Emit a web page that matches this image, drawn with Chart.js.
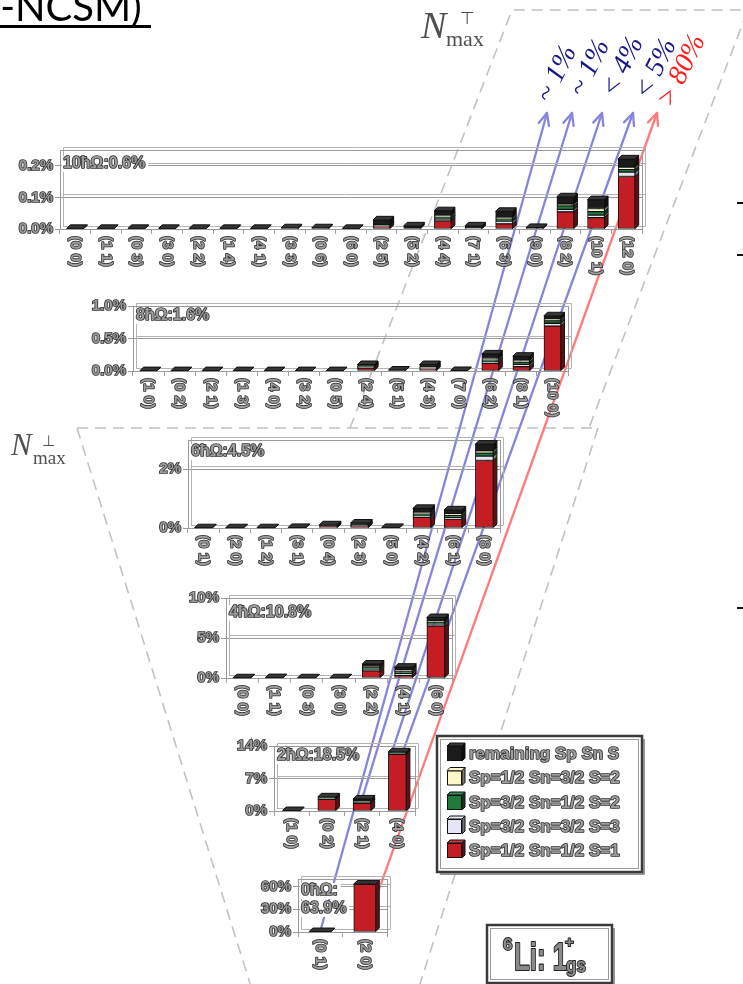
<!DOCTYPE html>
<html lang="en">
<head>
<meta charset="utf-8">
<title>6Li ground state: SU(3) and spin content per shell</title>
<script src="https://cdn.jsdelivr.net/npm/chart.js@4.4.1/dist/chart.umd.min.js"></script>
<style>
  html, body { margin: 0; padding: 0; background: #fff; }
  #stage { position: relative; width: 743px; height: 984px; overflow: hidden; background: #fff; }
  #stage canvas { position: absolute; }
  #bg { left: 0; top: 0; z-index: 0; }
</style>
</head>
<body>
<div id="stage"><canvas id="bg" width="743" height="984"></canvas></div>
<script>
// ---------------- data ----------------
// SU(3) irreps (lambda mu) in each N-hbar-Omega shell
const irreps0  = ['(0 1)', '(2 0)'];
const irreps2  = ['(1 0)', '(0 2)', '(2 1)', '(4 0)'];
const irreps4  = ['(0 0)', '(1 1)', '(0 3)', '(3 0)', '(2 2)', '(4 1)', '(6 0)'];
const irreps6  = ['(0 1)', '(2 0)', '(1 2)', '(3 1)', '(0 4)', '(2 3)', '(5 0)', '(4 2)', '(6 1)', '(8 0)'];
const irreps8  = ['(1 0)', '(0 2)', '(2 1)', '(1 3)', '(4 0)', '(3 2)', '(0 5)', '(2 4)', '(5 1)', '(4 3)', '(7 0)', '(6 2)', '(8 1)', '(10 0)'];
const irreps10 = ['(0 0)', '(1 1)', '(0 3)', '(3 0)', '(2 2)', '(1 4)', '(4 1)', '(3 3)', '(0 6)', '(6 0)', '(2 5)', '(5 2)', '(4 4)', '(7 1)', '(6 3)', '(9 0)', '(8 2)', '(10 1)', '(12 0)'];

// probability (%) per spin component; stacked bottom -> top:
// s1 = Sp=1/2 Sn=1/2 S=1, s3 = Sp=3/2 Sn=3/2 S=3, s2p = Sp=3/2 Sn=1/2 S=2,
// s2n = Sp=1/2 Sn=3/2 S=2, rest = remaining Sp Sn S
const s1_0   = [0, 63.0];
const s3_0   = [0, 0];
const s2p_0  = [0, 0];
const s2n_0  = [0, 0];
const rest_0 = [0.6, 0.3];

const s1_2   = [0, 2.5, 1.65, 12.2];
const s3_2   = [0, 0.1, 0.15, 0.1];
const s2p_2  = [0, 0.1, 0.15, 0.1];
const s2n_2  = [0, 0.05, 0.1, 0.05];
const rest_2 = [0.1, 0.3, 0.55, 0.3];

const s1_4   = [0, 0, 0, 0, 0.90, 0.32, 6.50];
const s3_4   = [0, 0, 0, 0, 0.20, 0.22, 0.25];
const s2p_4  = [0, 0, 0, 0, 0.20, 0.25, 0.20];
const s2n_4  = [0, 0, 0, 0, 0.15, 0.20, 0.16];
const rest_4 = [0.03, 0.05, 0.03, 0.03, 0.30, 0.36, 0.45];

const s1_6   = [0, 0, 0, 0, 0.05, 0.07, 0, 0.36, 0.30, 2.30];
const s3_6   = [0, 0, 0, 0, 0, 0.01, 0, 0.05, 0.06, 0.15];
const s2p_6  = [0, 0, 0, 0, 0, 0.01, 0, 0.07, 0.07, 0.10];
const s2n_6  = [0, 0, 0, 0, 0, 0.01, 0, 0.05, 0.05, 0.08];
const rest_6 = [0.01, 0.01, 0.01, 0.02, 0.06, 0.07, 0.02, 0.14, 0.14, 0.23];

const s1_8   = [0, 0, 0, 0, 0, 0, 0, 0.045, 0, 0.028, 0, 0.118, 0.068, 0.690];
const s3_8   = [0, 0, 0, 0, 0, 0, 0, 0.008, 0, 0.010, 0, 0.025, 0.035, 0.045];
const s2p_8  = [0, 0, 0, 0, 0, 0, 0, 0.008, 0, 0.010, 0, 0.028, 0.035, 0.040];
const s2n_8  = [0, 0, 0, 0, 0, 0, 0, 0.007, 0, 0.008, 0, 0.022, 0.030, 0.025];
const rest_8 = [0.006, 0.006, 0.006, 0.006, 0.006, 0.006, 0.006, 0.032, 0.015, 0.044, 0.008, 0.070, 0.060, 0.050];

const s1_10   = [0, 0, 0, 0, 0, 0, 0, 0, 0, 0, 0.007, 0, 0.026, 0, 0.016, 0, 0.054, 0.036, 0.166];
const s3_10   = [0, 0, 0, 0, 0, 0, 0, 0, 0, 0, 0.002, 0, 0.005, 0.002, 0.009, 0, 0.008, 0.008, 0.014];
const s2p_10  = [0, 0, 0, 0, 0, 0, 0, 0, 0, 0, 0.002, 0, 0.007, 0, 0.007, 0, 0.011, 0.011, 0.008];
const s2n_10  = [0, 0, 0, 0, 0, 0, 0, 0, 0, 0, 0.002, 0, 0.005, 0, 0.005, 0, 0.006, 0.010, 0.008];
const rest_10 = [0.002, 0.002, 0.002, 0.002, 0.002, 0.002, 0.002, 0.004, 0.004, 0.002, 0.016, 0.010, 0.015, 0.008, 0.019, 0.005, 0.023, 0.028, 0.026];

// y-axis tick values per shell
const ticks0  = [0, 30, 60];
const ticks2  = [0, 7, 14];
const ticks4  = [0, 5, 10];
const ticks6  = [0, 2];
const ticks8  = [0, 0.5, 1.0];
const ticks10 = [0, 0.1, 0.2];

const seriesNames = ['Sp=1/2 Sn=1/2 S=1', 'Sp=3/2 Sn=3/2 S=3', 'Sp=3/2 Sn=1/2 S=2', 'Sp=1/2 Sn=3/2 S=2', 'remaining Sp Sn S'];
// flow to the next shell, shown at the arrow heads
const flowLabels = ['~ 1%', '~ 1%', '< 4%', '< 5%', '> 80%'];

// ---------------- styling / layout ----------------
const seriesColors = ['#c41e24', '#e5e5f5', '#1f7a3b', '#fbf7c6', '#1b1b1b'];
const FONT = '"Liberation Sans", Arial, sans-serif';
const TXT_FILL = '#9c9c9c', TXT_EDGE = '#2e2e2e', TXT_W = 1.6;
const Wy = 56, padTop = 8, padRight = 10, Hx = 62, depth = 3.5;

const panels = [
  { id: 'p10', shell: 10, labels: irreps10, series: [s1_10, s3_10, s2p_10, s2n_10, rest_10], ticks: ticks10, dec: 1,
    left: 60,  right: 642, top: 147, bottom: 229, max: 0.25, barW: 17, tagDy: [14] },
  { id: 'p8',  shell: 8,  labels: irreps8,  series: [s1_8, s3_8, s2p_8, s2n_8, rest_8], ticks: ticks8, dec: 1,
    left: 133, right: 568, top: 303, bottom: 371, max: 1.0,  barW: 17, tagDy: [10] },
  { id: 'p6',  shell: 6,  labels: irreps6,  series: [s1_6, s3_6, s2p_6, s2n_6, rest_6], ticks: ticks6, dec: 0,
    left: 188, right: 500, top: 437, bottom: 528, max: 3,    barW: 18, tagDy: [12] },
  { id: 'p4',  shell: 4,  labels: irreps4,  series: [s1_4, s3_4, s2p_4, s2n_4, rest_4], ticks: ticks4, dec: 0,
    left: 226, right: 452, top: 595, bottom: 678, max: 10,   barW: 18, tagDy: [15] },
  { id: 'p2',  shell: 2,  labels: irreps2,  series: [s1_2, s3_2, s2p_2, s2n_2, rest_2], ticks: ticks2, dec: 0,
    left: 274, right: 415, top: 743, bottom: 811, max: 14,   barW: 18, tagDy: [10] },
  { id: 'p0',  shell: 0,  labels: irreps0,  series: [s1_0, s3_0, s2p_0, s2n_0, rest_0], ticks: ticks0, dec: 0,
    left: 298, right: 387, top: 876, bottom: 932, max: 70,   barW: 22, tagDy: [12, 30], split: true }
];

function shade(hex, f) {
  const n = parseInt(hex.slice(1), 16);
  let r = n >> 16, g = (n >> 8) & 255, b = n & 255;
  if (f <= 1) { r *= f; g *= f; b *= f; }
  else { const t = f - 1; r += (255 - r) * t; g += (255 - g) * t; b += (255 - b) * t; }
  return `rgb(${r | 0},${g | 0},${b | 0})`;
}

function outlined(ctx, text, x, y, fill = TXT_FILL, stroke = TXT_EDGE, lw = TXT_W) {
  ctx.lineJoin = 'round';
  ctx.lineWidth = lw; ctx.strokeStyle = stroke; ctx.strokeText(text, x, y);
  ctx.fillStyle = fill; ctx.fillText(text, x, y);
}

function makeLook(p, tagLines) {
  return {
    id: 'excelLook',
    beforeDatasetsDraw(chart) {
      const { ctx, chartArea: a, scales: { y } } = chart;
      const d = 3;
      ctx.save();
      ctx.lineWidth = 1;
      ctx.strokeStyle = '#b4b4b4';
      ctx.beginPath();
      y.ticks.forEach(t => {
        const py = Math.round(y.getPixelForValue(t.value)) - d + 0.5;
        ctx.moveTo(a.left + d, py); ctx.lineTo(a.right + d, py);
      });
      const bl = Math.round(a.left + d) + 0.5, br = Math.round(a.right + d) + 0.5;
      const bt = Math.round(a.top - d) + 0.5, bb = Math.round(a.bottom - d) + 0.5;
      ctx.moveTo(bl, bt); ctx.lineTo(br, bt); ctx.lineTo(br, bb);
      ctx.moveTo(bl, bt); ctx.lineTo(bl, bb);
      ctx.stroke();
      ctx.strokeStyle = '#9a9a9a';
      ctx.strokeRect(Math.round(a.left) + 0.5, Math.round(a.top) + 0.5, Math.round(a.right - a.left), Math.round(a.bottom - a.top));
      ctx.restore();
    },
    afterDatasetsDraw(chart) {
      const { ctx } = chart;
      const d = depth, ds = chart.data.datasets;
      ctx.save();
      ctx.lineWidth = 1; ctx.strokeStyle = '#111';
      chart.data.labels.forEach((_, i) => {
        let topIdx = -1;
        ds.forEach((set, k) => { if (set.data[i] > 0) topIdx = k; });
        ds.forEach((set, k) => {
          if (!(set.data[i] > 0)) return;
          const { x, y, base, width } = chart.getDatasetMeta(k).data[i].getProps(['x', 'y', 'base', 'width'], true);
          const l = x - width / 2, r = x + width / 2;
          ctx.fillStyle = shade(set.backgroundColor, 0.5);
          ctx.beginPath();
          ctx.moveTo(r, y); ctx.lineTo(r + d, y - d); ctx.lineTo(r + d, base - d); ctx.lineTo(r, base);
          ctx.closePath(); ctx.fill(); ctx.stroke();
          if (k === topIdx) {
            ctx.fillStyle = shade(set.backgroundColor, 1.12);
            ctx.beginPath();
            ctx.moveTo(l, y); ctx.lineTo(l + d, y - d); ctx.lineTo(r + d, y - d); ctx.lineTo(r, y);
            ctx.closePath(); ctx.fill(); ctx.stroke();
          }
        });
      });
      ctx.restore();
    },
    afterDraw(chart) {
      const { ctx, chartArea: a, scales: { x } } = chart;
      ctx.save();
      ctx.font = 'bold 15px ' + FONT;
      ctx.textAlign = 'left'; ctx.textBaseline = 'middle';
      chart.data.labels.forEach((lab, i) => {
        ctx.save();
        ctx.translate(x.getPixelForValue(i), a.bottom + 7);
        ctx.rotate(Math.PI / 2);
        outlined(ctx, lab, 0, 0);
        ctx.restore();
      });
      ctx.font = 'bold 16px ' + FONT;
      tagLines.forEach((t, j) => {
        const ty = a.top + p.tagDy[j];
        const w = ctx.measureText(t).width;
        ctx.fillStyle = '#fff';
        ctx.fillRect(a.left + 2, ty - 8, w + 4, 16);
        outlined(ctx, t, a.left + 3, ty);
      });
      ctx.restore();
    }
  };
}

// ---------------- charts ----------------
const stage = document.getElementById('stage');
const charts = {};
const panelById = {};

panels.forEach(p => {
  panelById[p.id] = p;
  const w = p.right - p.left + Wy + padRight;
  const h = p.bottom - p.top + padTop + Hx;
  const cv = document.createElement('canvas');
  cv.width = w; cv.height = h;
  cv.style.left = (p.left - Wy) + 'px';
  cv.style.top = (p.top - padTop) + 'px';
  cv.style.width = w + 'px'; cv.style.height = h + 'px';
  cv.style.zIndex = 1;
  stage.appendChild(cv);

  const total = p.series.reduce((s, arr) => s + arr.reduce((a, b) => a + b, 0), 0);
  const head = p.shell + 'ħΩ:';
  const pct = total.toFixed(1) + '%';
  const tagLines = p.split ? [head, pct] : [head + pct];

  charts[p.id] = new Chart(cv, {
    type: 'bar',
    data: {
      labels: p.labels,
      datasets: p.series.map((arr, k) => ({
        label: seriesNames[k],
        data: arr,
        backgroundColor: seriesColors[k],
        borderColor: '#111',
        borderWidth: 1,
        borderSkipped: false,
        barThickness: p.barW
      }))
    },
    options: {
      responsive: false,
      animation: false,
      events: [],
      layout: { padding: { top: padTop, right: padRight, left: 0, bottom: 0 } },
      plugins: { legend: { display: false }, tooltip: { enabled: false } },
      scales: {
        x: {
          stacked: true,
          offset: true,
          grid: { display: true, drawOnChartArea: false, offset: true, tickLength: 5, color: '#a0a0a0' },
          border: { color: '#9a9a9a' },
          ticks: { display: false },
          afterFit: s => { s.height = Hx; }
        },
        y: {
          stacked: true,
          min: 0,
          max: p.max,
          afterBuildTicks: s => { s.ticks = p.ticks.map(v => ({ value: v })); },
          grid: { color: '#9a9a9a', tickLength: 5 },
          border: { color: '#9a9a9a' },
          ticks: {
            padding: 2,
            color: TXT_FILL,
            textStrokeColor: TXT_EDGE,
            textStrokeWidth: TXT_W,
            font: { family: FONT, size: 15, weight: 'bold' },
            callback: v => Number(v).toFixed(p.dec) + '%'
          },
          afterFit: s => { s.width = Wy; }
        }
      }
    },
    plugins: [makeLook(p, tagLines)]
  });
});

// ---------------- decorations on the backdrop ----------------
const bg = document.getElementById('bg').getContext('2d');

// model-space outlines
bg.save();
bg.strokeStyle = '#c2c2c2';
bg.lineWidth = 1.6;
bg.setLineDash([11, 7]);
bg.beginPath();
bg.moveTo(350, 428); bg.lineTo(512, 10); bg.lineTo(760, 10);
bg.moveTo(747, 12); bg.lineTo(589, 428);
bg.moveTo(77, 428); bg.lineTo(598, 428);
bg.moveTo(77, 428); bg.lineTo(252, 990);
bg.moveTo(598, 428); bg.lineTo(418, 990);
bg.stroke();
bg.restore();

// N_max labels
bg.save();
bg.fillStyle = '#505050';
bg.font = 'italic 38px "Liberation Serif", serif';
bg.fillText('N', 421, 38);
bg.font = '17px "DejaVu Sans", sans-serif';
bg.fillText('⊤', 460, 24);
bg.font = '22px "Liberation Serif", serif';
bg.fillText('max', 446, 46);
bg.font = 'italic 31px "Liberation Serif", serif';
bg.fillText('N', 11, 455);
bg.font = '15px "DejaVu Sans", sans-serif';
bg.fillText('⊥', 42, 446);
bg.font = '19px "Liberation Serif", serif';
bg.fillText('max', 33, 464);
bg.restore();

// arrows from shell components to the flow estimates
function barAnchor(id, i, fx, fy) {
  const c = charts[id], p = panelById[id];
  const total = c.data.datasets.reduce((s, d) => s + d.data[i], 0);
  const base = c.scales.y.getPixelForValue(0), top = c.scales.y.getPixelForValue(total);
  return [p.left - Wy + c.scales.x.getPixelForValue(i) + fx * p.barW / 2,
          p.top - padTop + base - fy * (base - top)];
}
function arrow(ctx, x0, y0, x1, y1, color) {
  ctx.strokeStyle = color; ctx.lineWidth = 2.3; ctx.lineCap = 'round'; ctx.lineJoin = 'round';
  ctx.beginPath(); ctx.moveTo(x0, y0); ctx.lineTo(x1, y1); ctx.stroke();
  const ang = Math.atan2(y1 - y0, x1 - x0), L = 13, s = 0.42;
  ctx.beginPath();
  ctx.moveTo(x1 - L * Math.cos(ang - s), y1 - L * Math.sin(ang - s));
  ctx.lineTo(x1, y1);
  ctx.lineTo(x1 - L * Math.cos(ang + s), y1 - L * Math.sin(ang + s));
  ctx.stroke();
}
const arrowFrom = [['p0', 0, 0, 1], ['p2', 2, 0, 1], ['p2', 3, -0.6, 1], ['p2', 3, 0.6, 1], ['p0', 1, 1, 0.7]];
const arrowTo = [[547, 113], [572, 113], [602, 113], [633, 113], [657, 113]];
const arrowColors = ['#8585dd', '#8585dd', '#8585dd', '#8585dd', '#ff7b7b'];
bg.save();
arrowFrom.forEach((a, k) => {
  const [x0, y0] = barAnchor(a[0], a[1], a[2], a[3]);
  arrow(bg, x0, y0, arrowTo[k][0], arrowTo[k][1], arrowColors[k]);
});
bg.restore();

// flow percentages
const flowCenters = [[557, 74], [590, 68], [623, 67], [656, 69], [682, 71]];
bg.save();
bg.font = 'italic 28px "Liberation Serif", serif';
bg.textAlign = 'center'; bg.textBaseline = 'middle';
flowLabels.forEach((t, k) => {
  bg.save();
  bg.translate(flowCenters[k][0], flowCenters[k][1]);
  bg.rotate(-64 * Math.PI / 180);
  bg.fillStyle = k === 4 ? '#ff1c1c' : '#16168a';
  bg.fillText(t, 0, 0);
  bg.restore();
});
bg.restore();

// legend
function box3d(ctx, x0, y0, x1, y1) {
  ctx.fillStyle = '#fff';
  ctx.fillRect(x0, y0, x1 - x0, y1 - y0);
  ctx.lineWidth = 2.5; ctx.strokeStyle = '#3a3a3a';
  ctx.strokeRect(x0, y0, x1 - x0, y1 - y0);
  ctx.lineWidth = 1; ctx.strokeStyle = '#9a9a9a';
  ctx.strokeRect(x0 + 3.5, y0 + 3.5, x1 - x0 - 7, y1 - y0 - 7);
  ctx.lineWidth = 1.5; ctx.strokeStyle = '#777';
  ctx.beginPath(); ctx.moveTo(x0 + 3, y1 + 2); ctx.lineTo(x1 + 2, y1 + 2); ctx.lineTo(x1 + 2, y0 + 3); ctx.stroke();
}
bg.save();
box3d(bg, 437, 736, 642, 872);
const legendRows = [753, 777.5, 802, 826, 850];
bg.font = 'bold 17px ' + FONT;
bg.textBaseline = 'middle'; bg.textAlign = 'left';
for (let r = 0; r < 5; r++) {
  const k = 4 - r;
  const y = legendRows[r];
  const c = seriesColors[k];
  bg.lineWidth = 1; bg.strokeStyle = '#111';
  bg.fillStyle = shade(c, 0.5);
  bg.beginPath(); bg.moveTo(462, y - 7); bg.lineTo(465, y - 10); bg.lineTo(465, y + 5); bg.lineTo(462, y + 8); bg.closePath(); bg.fill(); bg.stroke();
  bg.fillStyle = shade(c, 1.12);
  bg.beginPath(); bg.moveTo(447, y - 7); bg.lineTo(450, y - 10); bg.lineTo(465, y - 10); bg.lineTo(462, y - 7); bg.closePath(); bg.fill(); bg.stroke();
  bg.fillStyle = c;
  bg.fillRect(447, y - 7, 15, 15); bg.strokeRect(447.5, y - 6.5, 14, 14);
  outlined(bg, seriesNames[k], 469, y + 1);
}
bg.restore();

// state box
bg.save();
box3d(bg, 487, 925, 612, 983);
bg.textBaseline = 'alphabetic'; bg.textAlign = 'left';
bg.font = 'bold 17px ' + FONT;
outlined(bg, '6', 503, 950, '#8a8a8a', '#222', 1.8);
bg.save();
bg.translate(514, 970); bg.scale(0.68, 1);
bg.font = 'bold 38px ' + FONT;
outlined(bg, 'Li: 1', 0, 0, '#8a8a8a', '#222', 2.2);
bg.restore();
bg.font = 'bold 15px ' + FONT;
outlined(bg, '+', 565, 947, '#8a8a8a', '#222', 1.8);
bg.save();
bg.translate(566, 972); bg.scale(0.85, 1);
bg.font = 'bold 20px ' + FONT;
outlined(bg, 'gs', 0, 0, '#8a8a8a', '#222', 1.8);
bg.restore();
bg.restore();

// heading fragment
bg.save();
bg.fillStyle = '#000';
bg.font = '40px Lato, "Open Sans", sans-serif';
bg.textBaseline = 'alphabetic';
const dashW = bg.measureText('-').width;
bg.fillText('-NCSM)', 15 - dashW, 21);
bg.fillRect(0, 25, 151, 3);
bg.restore();

// tick stubs of the neighbouring panel
bg.fillStyle = '#111';
[202, 254, 607].forEach(y => bg.fillRect(737, y, 6, 2));
</script>
</body>
</html>
